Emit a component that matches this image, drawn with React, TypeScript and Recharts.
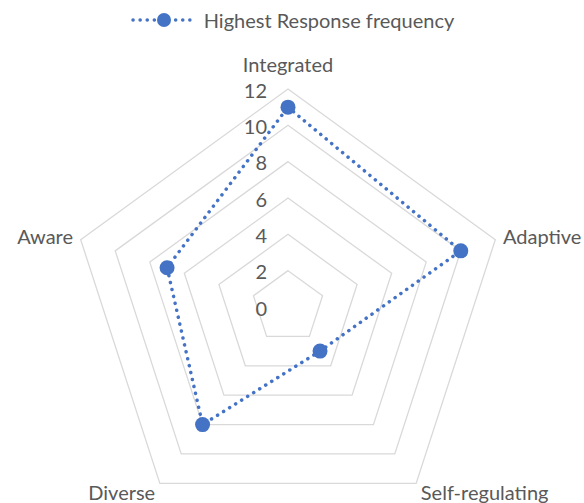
import { Legend, PolarAngleAxis, PolarGrid, PolarRadiusAxis, Radar, RadarChart } from "recharts"

const dimensions = ["Integrated", "Adaptive", "Self-regulating", "Diverse", "Aware"]
const highestResponse = [11, 10, 3, 8, 7]
const radiusTicks = [0, 2, 4, 6, 8, 10, 12]

const data = dimensions.map((name, i) => ({ name, value: highestResponse[i] }))

const BLUE = "#4472C4"
const TEXT = "#595959"
const FONT = "Lato, 'Open Sans', sans-serif"
const CX = 288
const CY = 307

function AngleTick(props: any) {
  const { x, y, payload, textAnchor } = props
  let dy = 7
  if (y < CY - 100 && textAnchor === "middle") dy = -9
  else if (y > CY + 100) dy = 10
  return (
    <text x={x} y={y + dy} textAnchor={textAnchor} fill={TEXT} fontSize={20} fontFamily={FONT}>
      {payload.value}
    </text>
  )
}

function RadiusTick(props: any) {
  const { x, y, payload } = props
  return (
    <text x={x - 21} y={y + 8.5} textAnchor="end" fill={TEXT} fontSize={20} fontFamily={FONT}>
      {payload.value}
    </text>
  )
}

function MarkerDot(props: any) {
  const { cx, cy, index } = props
  return <circle key={`dot-${index}`} cx={cx} cy={cy} r={7.5} fill={BLUE} />
}

function LegendContent() {
  return (
    <div style={{ display: "flex", justifyContent: "center", alignItems: "center", fontFamily: FONT }}>
      <svg width={68} height={20} style={{ marginRight: 6 }}>
        <line
          x1={3}
          y1={10}
          x2={65}
          y2={10}
          stroke={BLUE}
          strokeWidth={3.5}
          strokeDasharray="0.1 7"
          strokeLinecap="round"
        />
        <circle cx={34} cy={10} r={7} fill={BLUE} />
      </svg>
      <span style={{ color: TEXT, fontSize: 20 }}>Highest Response frequency</span>
    </div>
  )
}

export default function App() {
  return (
    <div style={{ position: "absolute", left: 0, top: 0, width: 584, height: 503, background: "#fff" }}>
      <RadarChart
        width={584}
        height={503}
        data={data}
        cx={CX}
        cy={CY}
        outerRadius={218}
        startAngle={90}
        endAngle={-270}
      >
        <PolarGrid gridType="polygon" radialLines={false} stroke="#d9d9d9" strokeWidth={1.3} />
        <PolarAngleAxis dataKey="name" tick={<AngleTick />} tickLine={false} axisLine={false} />
        <PolarRadiusAxis
          angle={90}
          domain={[0, 12]}
          ticks={radiusTicks}
          tick={<RadiusTick />}
          tickLine={false}
          axisLine={false}
        />
        <Legend verticalAlign="top" wrapperStyle={{ top: 8 }} content={<LegendContent />} />
        <Radar
          name="Highest Response frequency"
          dataKey="value"
          stroke={BLUE}
          strokeWidth={3.5}
          strokeDasharray="0.1 7"
          strokeLinecap="round"
          fill="none"
          fillOpacity={0}
          dot={MarkerDot}
          isAnimationActive={false}
        />
      </RadarChart>
    </div>
  )
}
